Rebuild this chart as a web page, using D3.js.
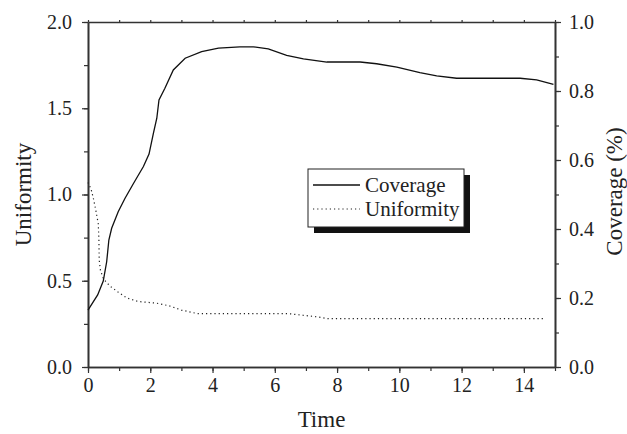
<!DOCTYPE html>
<html><head><meta charset="utf-8">
<script src="https://cdn.jsdelivr.net/npm/d3@7"></script>
<style>
html,body{margin:0;padding:0;background:#fff;}
svg{display:block;}
text{font-family:"Liberation Serif","Times New Roman",serif;fill:#222;}
</style></head>
<body><svg id="c" width="627" height="434"></svg>
<script>
// ---- data ----
const covTime = [0,0.31,0.49,0.6,0.67,0.76,0.97,1.19,1.46,1.78,1.96,2.1,2.21,2.28,2.47,2.74,3.12,3.65,4.19,4.88,5.31,5.79,6.38,6.92,7.67,8.74,9.27,9.92,10.66,11.2,11.84,13.88,14.41,14.95];
const coverage = [0.165,0.209,0.249,0.305,0.368,0.402,0.45,0.489,0.532,0.581,0.617,0.677,0.721,0.774,0.808,0.861,0.895,0.914,0.924,0.928,0.928,0.922,0.903,0.893,0.884,0.884,0.879,0.869,0.853,0.844,0.837,0.837,0.832,0.819];
const uniTime = [0,0.1,0.17,0.25,0.33,0.35,0.36,0.4,0.5,0.7,1.0,1.25,1.6,2.2,2.6,3.0,3.5,6.4,6.9,7.4,7.7,14.7];
const uniformity = [1.07,1.03,0.98,0.91,0.83,0.74,0.62,0.56,0.51,0.47,0.43,0.40,0.38,0.37,0.355,0.33,0.31,0.31,0.30,0.29,0.28,0.28];
const xTicks = [0,2,4,6,8,10,12,14];
const leftTicks = [0,0.5,1.0,1.5,2.0];
const rightTicks = [0,0.2,0.4,0.6,0.8,1.0];
const seriesNames = ["Coverage","Uniformity"];

// ---- layout ----
const L=88,R=555,T=22,B=367;
const svg=d3.select("#c");
const x=d3.scaleLinear().domain([0,15]).range([L,R]);
const yL=d3.scaleLinear().domain([0,2]).range([B,T]);
const yR=d3.scaleLinear().domain([0,1]).range([B,T]);
const axisColor="#333";
const fs=20;

function styleAxis(g){
  g.selectAll("path.domain").attr("stroke",axisColor).attr("stroke-width",1.6);
  g.selectAll(".tick line").attr("stroke",axisColor).attr("stroke-width",1.2);
  g.selectAll("text").attr("font-size",fs).attr("font-family","Liberation Serif").attr("fill","#222");
}
// minor ticks
const minorX=d3.range(0,15.01,1), minorL=d3.range(0,2.01,0.25), minorR=d3.range(0,1.001,0.1);
svg.append("g").attr("transform",`translate(0,${B})`).call(d3.axisBottom(x).tickValues(minorX).tickSize(4).tickFormat("").tickSizeOuter(0)).call(styleAxis);
svg.append("g").attr("transform",`translate(0,${T})`).call(d3.axisTop(x).tickValues(minorX).tickSize(2).tickFormat("").tickSizeOuter(0)).call(styleAxis);
svg.append("g").attr("transform",`translate(${L},0)`).call(d3.axisLeft(yL).tickValues(minorL).tickSize(4).tickFormat("").tickSizeOuter(0)).call(styleAxis);
svg.append("g").attr("transform",`translate(${R},0)`).call(d3.axisRight(yR).tickValues(minorR).tickSize(4).tickFormat("").tickSizeOuter(0)).call(styleAxis);
// major
svg.append("g").attr("transform",`translate(0,${B})`).call(d3.axisBottom(x).tickValues(xTicks).tickSize(6).tickPadding(5).tickFormat(d3.format("d")).tickSizeOuter(0)).call(styleAxis);
svg.append("g").attr("transform",`translate(${L},0)`).call(d3.axisLeft(yL).tickValues(leftTicks).tickSize(6).tickPadding(10).tickFormat(d3.format(".1f")).tickSizeOuter(0)).call(styleAxis);
svg.append("g").attr("transform",`translate(${R},0)`).call(d3.axisRight(yR).tickValues(rightTicks).tickSize(6).tickPadding(8).tickFormat(d3.format(".1f")).tickSizeOuter(0)).call(styleAxis);

// titles
svg.append("text").attr("x",(L+R)/2).attr("y",427).attr("text-anchor","middle").attr("font-size",23).text("Time");
svg.append("text").attr("transform",`translate(31,${(T+B)/2}) rotate(-90)`).attr("text-anchor","middle").attr("font-size",23).text("Uniformity");
svg.append("text").attr("transform",`translate(622,${(T+B)/2-3}) rotate(-90)`).attr("text-anchor","middle").attr("font-size",23).text("Coverage (%)");

// lines
const covData=covTime.map((t,i)=>[t,coverage[i]]);
const uniData=uniTime.map((t,i)=>[t,uniformity[i]]);
svg.append("path").datum(covData).attr("fill","none").attr("stroke","#111").attr("stroke-width",1.3)
  .attr("d",d3.line().x(d=>x(d[0])).y(d=>yR(d[1])));
svg.append("path").datum(uniData).attr("fill","none").attr("stroke","#222").attr("stroke-width",1.2).attr("stroke-dasharray","1.2,3")
  .attr("d",d3.line().x(d=>x(d[0])).y(d=>yL(d[1])));

// legend
const lg=svg.append("g");
lg.append("rect").attr("x",314).attr("y",175).attr("width",156).attr("height",58).attr("fill","#111");
lg.append("rect").attr("x",308).attr("y",169).attr("width",156).attr("height",58).attr("fill","#fff").attr("stroke","#222").attr("stroke-width",1);
lg.append("line").attr("x1",313).attr("x2",360).attr("y1",185).attr("y2",185).attr("stroke","#111").attr("stroke-width",1.3);
lg.append("line").attr("x1",313).attr("x2",360).attr("y1",209).attr("y2",209).attr("stroke","#222").attr("stroke-width",1.2).attr("stroke-dasharray","1.2,3");
lg.append("text").attr("x",365).attr("y",192).attr("font-size",21).text(seriesNames[0]);
lg.append("text").attr("x",365).attr("y",216).attr("font-size",21).text(seriesNames[1]);
</script></body></html>
